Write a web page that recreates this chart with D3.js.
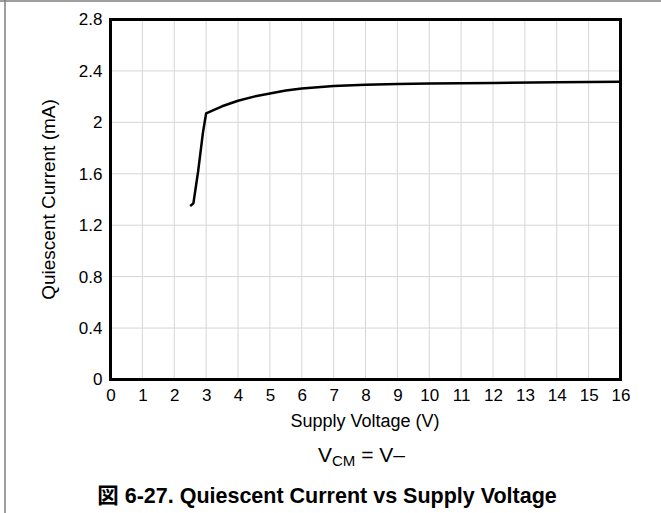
<!DOCTYPE html>
<html><head><meta charset="utf-8">
<script src="https://cdn.jsdelivr.net/npm/d3@7"></script>
<style>body{margin:0;background:#fff}svg{display:block}text{font-family:"Liberation Sans",Arial,sans-serif;fill:#000}</style>
</head><body>
<svg id="c" width="661" height="513"></svg>
<script>
const voltage = [2.5, 2.6, 2.75, 2.9, 3.0, 3.5, 4, 4.5, 5, 5.5, 6, 7, 8, 9, 10, 12, 14, 16];
const current = [1.35, 1.37, 1.62, 1.92, 2.07, 2.125, 2.168, 2.2, 2.225, 2.247, 2.264, 2.282, 2.292, 2.298, 2.302, 2.307, 2.311, 2.315];
const xTicks = d3.range(0, 17, 1);
const yTicks = [0, 0.4, 0.8, 1.2, 1.6, 2, 2.4, 2.8];
const xLabel = "Supply Voltage (V)";
const yLabel = "Quiescent Current (mA)";
const title = "図 6-27. Quiescent Current vs Supply Voltage";

const svg = d3.select("#c");
const L = 110.5, R = 620.5, T = 19.5, B = 379.5;
const x = d3.scaleLinear().domain([0, 16]).range([L, R]);
const y = d3.scaleLinear().domain([0, 2.8]).range([B, T]);

// outer frame
svg.append("line").attr("x1", 0).attr("x2", 661).attr("y1", 1).attr("y2", 1).attr("stroke", "#7f7f7f").attr("stroke-width", 1.5);
svg.append("line").attr("x1", 5).attr("x2", 5).attr("y1", 0).attr("y2", 513).attr("stroke", "#7f7f7f").attr("stroke-width", 1.5);

// grid
svg.append("g").selectAll("line").data(xTicks.slice(1, -1)).join("line")
  .attr("x1", d => x(d)).attr("x2", d => x(d)).attr("y1", T).attr("y2", B)
  .attr("stroke", "#d6d6d6").attr("stroke-width", 1);
svg.append("g").selectAll("line").data(yTicks.slice(1, -1)).join("line")
  .attr("x1", L).attr("x2", R).attr("y1", d => y(d)).attr("y2", d => y(d))
  .attr("stroke", "#d6d6d6").attr("stroke-width", 1);

// axes via d3 (labels only)
const xAxis = d3.axisBottom(x).tickValues(xTicks).tickSize(0).tickPadding(9).tickFormat(d3.format("d"));
const gx = svg.append("g").attr("transform", `translate(0,${B})`).call(xAxis);
gx.select(".domain").remove();
gx.selectAll("text").attr("font-size", 17).attr("font-family", "Liberation Sans, Arial, sans-serif").attr("fill", "#000");

const yAxis = d3.axisLeft(y).tickValues(yTicks).tickSize(0).tickPadding(8).tickFormat(d => d3.format("")(+d.toFixed(1)));
const gy = svg.append("g").attr("transform", `translate(${L},0)`).call(yAxis);
gy.select(".domain").remove();
gy.selectAll("text").attr("font-size", 17).attr("font-family", "Liberation Sans, Arial, sans-serif").attr("fill", "#000");

// frame
svg.append("rect").attr("x", L).attr("y", T).attr("width", R - L).attr("height", B - T)
  .attr("fill", "none").attr("stroke", "#000").attr("stroke-width", 3);

// curve
const line = d3.line().x((d, i) => x(voltage[i])).y(d => y(d));
svg.append("path").datum(current).attr("d", line)
  .attr("fill", "none").attr("stroke", "#000").attr("stroke-width", 2.5).attr("stroke-linejoin", "round");

// labels
svg.append("text").attr("x", 365).attr("y", 426.5).attr("text-anchor", "middle").attr("font-size", 18).text(xLabel);
svg.append("text").attr("transform", `translate(55,${(T + B) / 2}) rotate(-90)`).attr("text-anchor", "middle").attr("font-size", 19).text(yLabel);

const vt = svg.append("text").attr("x", 361.5).attr("y", 462.3).attr("text-anchor", "middle").attr("font-size", 21);
vt.append("tspan").text("V");
vt.append("tspan").attr("font-size", 15).attr("dy", 3.5).text("CM");
vt.append("tspan").attr("dy", -3.5).text(" = V–");

svg.append("text").attr("x", 327).attr("y", 503.3).attr("text-anchor", "middle").attr("font-size", 21.5).attr("font-weight", "bold")
  .style("font-family", "'Liberation Sans', Arial, 'Noto Sans CJK JP', sans-serif").text(title);
</script>
</body></html>
